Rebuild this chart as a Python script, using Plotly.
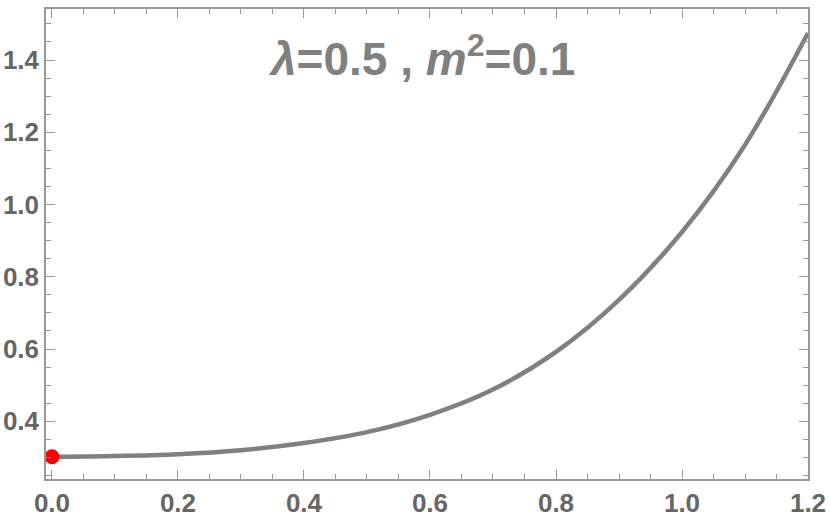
import plotly.graph_objects as go

# Data
x_vals = [0.0, 0.1, 0.2, 0.3, 0.4, 0.5, 0.6, 0.7, 0.8, 0.9, 1.0, 1.1, 1.2]
y_vals = [0.302, 0.304, 0.309, 0.320, 0.340, 0.370, 0.418, 0.488, 0.592, 0.736, 0.924, 1.165, 1.475]
point_x = [0.0]
point_y = [0.302]
x_ticks = [0.0, 0.2, 0.4, 0.6, 0.8, 1.0, 1.2]
x_tick_labels = ["0.0", "0.2", "0.4", "0.6", "0.8", "1.0", "1.2"]
y_ticks = [0.4, 0.6, 0.8, 1.0, 1.2, 1.4]
y_tick_labels = ["0.4", "0.6", "0.8", "1.0", "1.2", "1.4"]
title_text = "<b><i>λ</i>=0.5 , <i>m</i><sup>2</sup>=0.1</b>"

FONT = "Liberation Sans, Arial, sans-serif"
AXIS_COLOR = "#999999"
LABEL_COLOR = "#666666"

fig = go.Figure()
fig.add_trace(go.Scatter(
    x=x_vals, y=y_vals, mode="lines",
    line=dict(color="#808080", width=4.5, shape="spline", smoothing=1.0),
    hoverinfo="skip", showlegend=False,
))
fig.add_trace(go.Scatter(
    x=point_x, y=point_y, mode="markers",
    marker=dict(color="#ff0000", size=15),
    cliponaxis=False, showlegend=False,
))

axis_common = dict(
    showgrid=False, zeroline=False, automargin=False,
    showline=True, linecolor=AXIS_COLOR, linewidth=1.5,
    mirror="allticks", ticks="inside", ticklen=9, tickwidth=1.2,
    tickcolor=AXIS_COLOR,
    tickfont=dict(family=FONT, size=26, color=LABEL_COLOR, weight="bold"),
)

fig.update_xaxes(
    range=[-0.0095, 1.2],
    tickvals=x_ticks, ticktext=x_tick_labels,
    minor=dict(dtick=0.05, tick0=0, ticks="inside", ticklen=5, tickcolor=AXIS_COLOR, tickwidth=1),
    **axis_common,
)
fig.update_yaxes(
    range=[0.2402, 1.5413],
    tickvals=y_ticks, ticktext=y_tick_labels,
    minor=dict(dtick=0.05, tick0=0, ticks="inside", ticklen=5, tickcolor=AXIS_COLOR, tickwidth=1),
    **axis_common,
)

fig.add_annotation(
    text=title_text, xref="paper", yref="paper", x=0.493, y=0.9,
    xanchor="center", yanchor="middle", showarrow=False,
    font=dict(family=FONT, size=46, color="#808080"),
)

fig.update_layout(
    width=830, height=521,
    margin=dict(l=46, r=22, t=9, b=42),
    paper_bgcolor="white", plot_bgcolor="white",
)

fig.write_html(
    "out.html",
    config={"displayModeBar": False},
    post_script="document.body.style.margin='0';document.body.style.overflow='hidden';",
)
